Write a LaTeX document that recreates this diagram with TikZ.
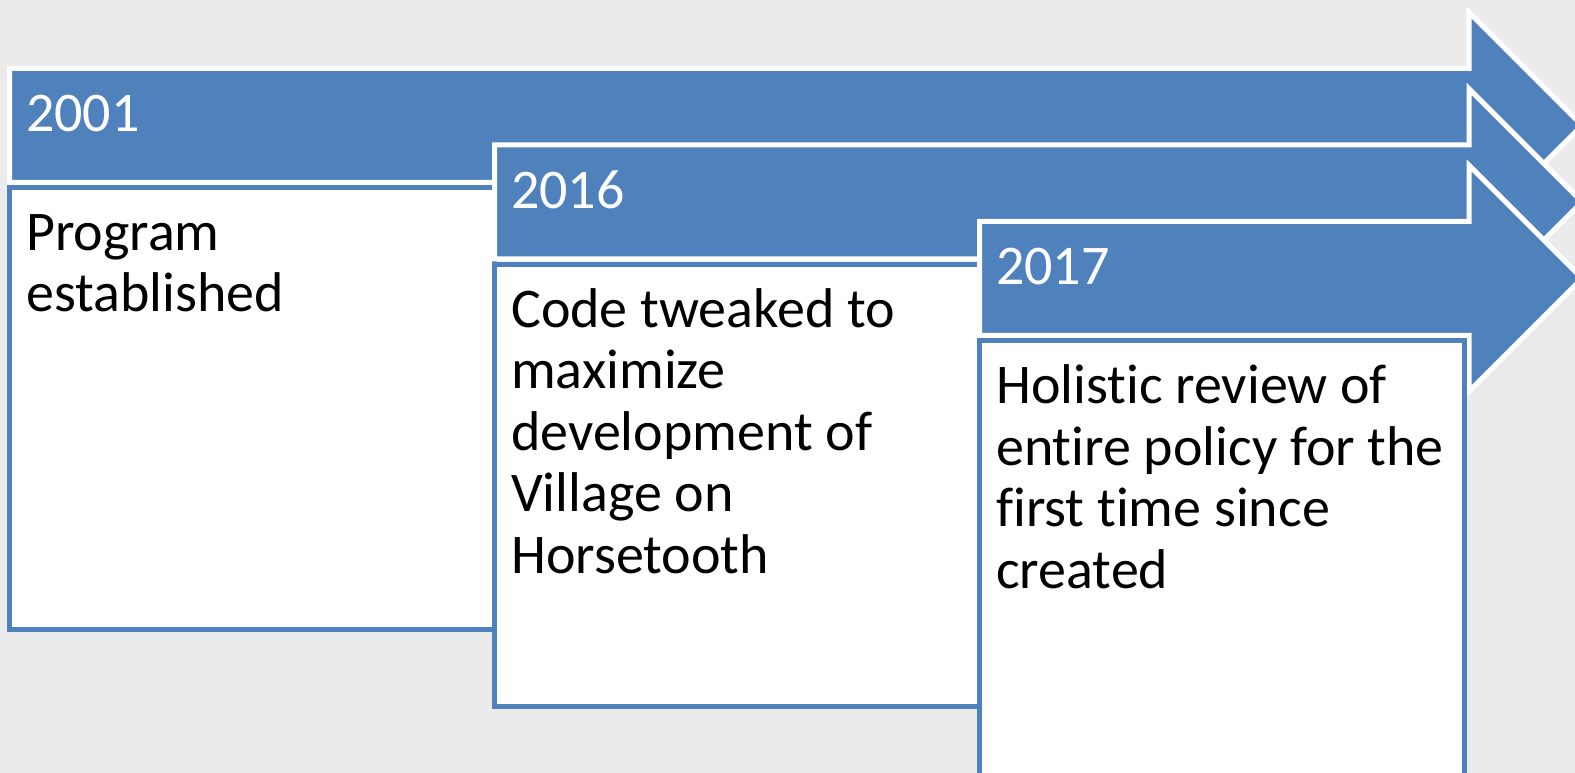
\documentclass[tikz,border=0pt]{standalone}
\usepackage{fontspec}
\setmainfont{Carlito}[Ligatures=NoCommon]
\definecolor{accent}{RGB}{79,129,189}
\definecolor{paper}{RGB}{235,235,235}

% one timeline step: arrow band starting at #1, with top edge at #2
\newcommand{\steparrow}[2]{%
  \fill[arrowshape] (#1,#2) -- (1469,#2) -- (1469,#2-56) -- (1582,#2+57)
    -- (1469,#2+170) -- (1469,#2+114) -- (#1,#2+114) -- cycle;}

\begin{document}
\begin{tikzpicture}[x=1pt,y=-1pt,
  arrowshape/.style={fill=accent, draw=white, line width=5pt, line join=miter},
  panel/.style={fill=white, draw=accent, line width=5pt},
  yearlabel/.style={anchor=base west, inner sep=0pt, text=white,
    font=\fontsize{56}{61.5}\selectfont},
  bodytext/.style={anchor=base west, inner sep=0pt, text=black,
    font=\fontsize{56}{61.5}\selectfont}]
\fill[paper] (0,0) rectangle (1575,773);
\useasboundingbox (0,0) rectangle (1575,773);
\clip (0,0) rectangle (1575,773);

% 2001
\steparrow{9.5}{68.3}
\node[yearlabel] (y1) at (26,131.5) {2001};
\draw[panel] (9.5,187.5) rectangle (494.5,629.5);
\node[bodytext] (t1) at (26,250.5)
  {\parbox[t]{440pt}{\raggedright Program\\established}};

% 2016
\steparrow{494.5}{144.8}
\node[yearlabel] (y2) at (511,208) {2016};
\draw[panel] (494.5,264) rectangle (979.5,706);
\node[bodytext] (t2) at (511,327)
  {\parbox[t]{440pt}{\raggedright Code tweaked to\\maximize\\development of\\Village on\\Horsetooth}};

% 2017
\steparrow{979.5}{221.3}
\node[yearlabel] (y3) at (996,284.5) {2017};
\draw[panel] (979.5,340.5) rectangle (1464.5,790);
\node[bodytext] (t3) at (996,403.5)
  {\parbox[t]{450pt}{\raggedright Holistic review of\\entire policy for the\\first time since\\created}};
\end{tikzpicture}
\end{document}
